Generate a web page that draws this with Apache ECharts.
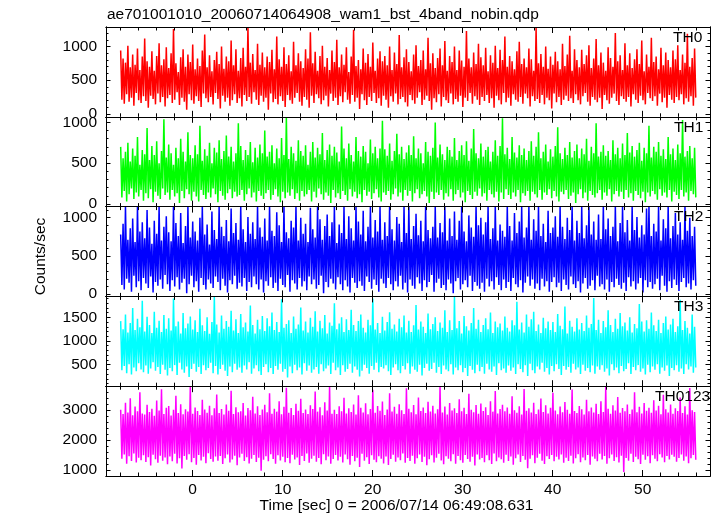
<!DOCTYPE html>
<html><head><meta charset="utf-8">
<script src="https://cdn.jsdelivr.net/npm/echarts@6/dist/echarts.min.js"></script>
<style>html,body{margin:0;padding:0;background:#fff}#c{width:717px;height:516px}</style>
</head><body><div id="c"></div>
<script>
const titleText = "ae701001010_20060714064908_wam1_bst_4band_nobin.qdp";
const xTitle = "Time [sec] 0 = 2006/07/14 06:49:08.631";
const yTitle = "Counts/sec";
const panelNames = ["TH0", "TH1", "TH2", "TH3", "TH0123"];
const xTickLabels = [0, 10, 20, 30, 40, 50];
const yTickLabels = [[0, 500, 1000], [0, 500, 1000], [0, 500, 1000], [500, 1000, 1500], [1000, 2000, 3000]];
const tStart = -8.0, tEnd = 55.9;

const th0 = [
940,210,820,150,760,290,1010,180,690,240,880,120,730,310,970,200,650,160,850,260,
1120,190,780,90,700,270,930,220,640,140,860,300,1050,170,720,250,810,110,990,230,
680,280,900,160,1260,210,750,320,620,130,840,240,960,180,700,60,880,290,770,200,
1030,150,660,260,820,190,710,100,940,300,1180,230,690,170,870,250,630,140,800,310,
920,220,740,80,1000,270,670,180,850,240,780,120,1090,200,720,290,960,160,640,230,
830,110,980,280,700,190,1290,250,760,150,890,320,650,210,1040,130,730,270,910,180,
690,240,850,60,770,300,950,170,660,220,1150,140,810,260,700,190,990,100,740,280,
870,200,630,150,1070,240,720,310,900,180,780,120,680,250,960,210,820,90,1210,270,
750,160,920,290,640,230,860,140,1010,200,700,270,830,110,650,300,940,190,770,240,
1100,130,690,260,880,170,730,320,990,210,620,150,850,280,1250,180,710,240,800,70,
660,290,970,200,760,130,890,250,700,190,1060,310,640,160,820,230,930,120,780,270,
860,210,720,90,1000,260,650,180,910,300,740,140,1170,220,690,250,840,170,960,110,
770,280,630,200,880,150,1020,240,710,320,800,130,940,210,660,270,1130,190,750,60,
900,230,680,170,830,290,970,110,720,250,1080,200,640,160,860,300,770,140,1000,220,
650,180,940,270,790,100,700,240,1230,190,820,310,690,150,910,260,740,210,1040,130,
840,250,720,190,980,280,630,160,870,230,760,90,1010,270,680,200,950,140,800,310,
1150,170,700,240,860,120,780,290,660,210,930,180,1070,250,740,150,820,300,690,230,
970,110,810,260,640,190,1280,220,750,160,890,280,700,140,1000,240,670,200,850,80,
730,300,920,170,780,250,660,130,1040,210,710,270,880,190,1160,230,640,160,960,290,
800,200,690,140,950,260,740,310,870,180,1020,120,680,250,820,210,1110,170,720,240,
910,70,760,280,640,200,990,150,830,240,700,300,1200,190,780,130,870,260,650,220,
1050,180,720,250,900,110,680,290,810,210,960,160,740,270,1090,200,630,140,880,310,
700,230,1130,190,770,260,850,120,660,300,980,170,720,240,910,90,800,280,690,210,
940,160,810,250,1020,200,650,290,880,140,760,230,1190,180,700,260,830,120,970,240];

const th1 = [
700,80,560,160,640,30,750,120,520,190,680,60,590,140,820,90,480,170,660,40,
610,130,930,70,540,180,710,20,600,150,770,100,500,60,650,190,1040,110,570,140,
730,50,620,170,480,90,690,130,560,10,800,160,640,70,520,180,880,120,600,40,
560,150,720,90,610,30,960,170,530,110,670,60,590,140,750,80,500,190,690,120,
630,20,780,160,550,100,650,50,840,130,580,180,700,70,520,150,620,90,990,110,
710,170,540,40,660,120,600,190,760,80,510,140,690,30,570,160,730,100,620,60,
900,130,580,170,640,50,720,110,500,180,680,90,560,20,810,150,600,70,1060,140,
550,100,700,180,620,60,530,130,780,40,650,160,590,90,720,120,480,170,640,30,
760,150,570,80,690,190,610,120,870,50,540,140,660,100,730,10,590,170,700,80,
630,130,520,60,950,160,680,110,560,40,740,180,600,90,520,150,820,70,650,120,
580,20,710,170,640,100,500,150,790,60,620,130,700,180,560,80,680,30,1020,140,
670,110,590,160,740,50,530,120,650,190,860,90,610,140,700,40,550,170,630,100,
720,160,600,30,830,130,560,180,680,70,620,120,500,160,760,90,640,10,590,150,
690,60,1000,140,570,110,730,170,610,50,540,130,700,90,660,180,580,40,810,120,
540,170,650,80,720,140,600,20,770,160,530,110,680,60,920,150,620,100,560,190,
740,90,580,130,660,40,700,170,520,120,640,80,780,150,590,30,710,140,1050,60,
610,180,690,110,550,60,820,140,630,90,570,170,720,20,600,130,680,100,540,160,
650,40,770,150,590,120,700,80,880,170,560,50,640,140,730,110,520,180,670,70,
580,160,710,90,940,30,620,150,550,120,690,170,600,60,760,100,570,140,650,10,
730,120,560,180,680,70,610,140,800,40,530,160,700,110,620,80,990,130,580,170,
640,50,720,140,590,100,650,180,540,30,780,120,610,160,690,90,560,150,740,60,
600,170,870,80,630,130,710,40,580,160,660,110,750,70,530,150,690,20,620,140,
960,90,570,160,700,120,640,50,760,180,590,100,670,140,550,80,820,170,610,30,
680,150,540,110,730,60,620,170,1030,90,580,140,650,40,710,160,560,120,690,80];

const th2 = [
780,120,920,60,1150,200,710,150,860,30,990,240,680,90,1150,170,820,50,940,210,
730,140,1100,80,870,230,660,20,960,160,790,110,1150,190,700,70,880,250,1020,130,
810,40,690,180,1150,100,930,220,760,60,1060,150,670,200,890,10,1150,130,740,240,
950,90,820,170,700,30,1000,210,1150,120,780,60,910,190,650,140,1080,80,840,230,
720,160,1150,50,880,200,760,110,970,20,690,180,1120,130,800,240,930,70,710,150,
1150,100,850,210,680,40,1010,160,790,90,940,230,720,130,1150,60,870,190,750,20,
990,170,700,110,1150,220,830,80,760,150,1070,40,900,200,680,120,1150,90,810,250,
730,30,960,180,870,140,1150,60,700,210,1000,100,790,170,920,50,680,230,1130,130,
850,190,740,70,1150,120,980,240,710,10,890,160,1040,90,760,200,940,140,1150,60,
670,220,910,130,800,50,1150,180,720,100,1020,20,860,210,700,150,1150,80,950,170,
780,110,1090,40,690,230,880,160,1150,70,740,190,970,120,820,30,1150,200,710,140,
940,80,760,210,1150,130,850,50,700,170,1010,100,920,240,680,60,1150,150,800,20,
1150,190,720,110,890,70,1050,220,770,140,960,40,690,180,1150,90,840,160,730,250,
880,30,1150,150,740,200,930,80,810,120,1150,50,700,190,990,140,760,10,1080,170,
710,210,960,60,1150,130,820,180,690,90,1030,240,870,40,750,160,1150,110,900,70,
1000,150,780,30,940,200,1150,100,720,170,860,60,1150,220,700,120,910,50,830,190,
750,80,1150,160,890,40,700,210,1060,130,800,90,950,180,1150,20,740,150,870,230,
1150,110,710,190,980,70,830,140,1150,50,760,200,920,100,680,170,1090,30,800,160,
870,220,1020,90,750,150,1150,40,880,190,720,120,1000,60,840,230,1150,130,700,80,
960,170,800,20,1150,140,730,210,900,70,1150,110,780,180,950,50,710,240,1040,100,
720,130,1150,60,850,190,990,30,760,160,880,90,1150,200,690,120,930,70,1150,150,
810,40,970,220,700,100,1150,170,840,60,1010,140,740,210,900,20,780,180,1120,90,
1150,160,760,70,920,130,820,200,1150,50,700,240,980,110,860,30,1150,170,730,80,
890,190,1060,120,780,40,940,160,710,210,1150,90,830,140,1000,60,760,180,880,110];

const th3 = [
1420,380,1250,470,1560,320,1180,510,1380,290,1700,440,1230,360,1470,530,1290,400,1850,340,
1200,480,1510,310,1340,420,1170,550,1620,370,1280,450,1430,300,1190,500,1550,390,1260,270,
1480,430,1220,360,1900,490,1310,280,1410,540,1160,400,1590,330,1270,460,1370,240,1520,410,
1240,520,1440,350,1190,450,1680,300,1330,490,1210,380,1500,430,1150,540,1400,320,1940,470,
1350,290,1180,410,1540,500,1260,370,1420,260,1300,460,1640,340,1220,520,1460,390,1170,440,
1570,330,1290,480,1390,400,1200,550,1750,310,1340,420,1160,490,1450,360,1250,280,1530,450,
1210,510,1480,340,1310,430,1600,300,1230,470,1400,390,1190,520,1880,350,1280,410,1360,230,
1440,460,1170,320,1520,500,1260,380,1350,440,1710,290,1220,530,1410,370,1180,480,1490,330,
1300,400,1630,450,1200,310,1430,510,1270,360,1550,420,1160,480,1390,300,1320,540,1800,380,
1250,440,1370,280,1500,490,1190,350,1460,410,1230,520,1660,330,1340,460,1210,390,1420,250,
1560,370,1280,500,1180,430,1450,310,1330,470,1900,390,1240,540,1380,340,1170,450,1510,420,
1220,490,1400,360,1610,280,1260,440,1350,510,1200,380,1470,320,1290,470,1540,400,1180,530,
1430,310,1190,460,1330,390,1760,350,1240,500,1410,270,1300,430,1170,520,1580,370,1250,410,
1360,540,1500,330,1210,450,1390,300,1280,480,1650,400,1190,360,1440,510,1230,290,1930,440,
1270,380,1420,490,1160,340,1530,430,1310,260,1220,470,1380,390,1700,320,1260,500,1450,360,
1190,450,1340,310,1480,520,1250,400,1600,350,1170,460,1410,280,1290,530,1370,380,1220,420,
1520,330,1280,480,1200,370,1440,440,1330,300,1830,510,1240,410,1390,340,1180,490,1560,260,
1300,520,1460,380,1620,320,1210,460,1350,400,1170,540,1490,350,1270,430,1410,290,1230,470,
1400,360,1190,510,1570,410,1320,280,1250,470,1730,390,1160,450,1430,330,1300,520,1200,400,
1480,440,1240,300,1380,500,1210,370,1540,430,1280,340,1360,480,1910,310,1230,460,1450,390,
1170,490,1420,350,1290,420,1650,270,1340,510,1190,380,1470,440,1260,320,1590,470,1310,360,
1390,410,1220,530,1500,300,1180,450,1360,380,1270,490,1780,350,1410,420,1200,290,1440,500,
1260,340,1600,460,1330,390,1210,510,1450,310,1170,440,1380,370,1520,480,1240,260,1350,430,
1470,380,1190,490,1310,350,1870,420,1230,300,1420,510,1280,400,1160,460,1560,330,1300,440];

const th0123 = [
3010,1380,2870,1520,3250,1210,2920,1460,3400,1300,2830,1550,3120,1250,2960,1410,3600,1330,2890,1490,
2850,1270,3180,1430,2940,1150,3050,1510,2810,1360,3320,1240,2990,1480,3700,1310,2870,1420,3080,1190,
3140,1450,2820,1290,3010,1540,3480,1220,2900,1390,3200,1050,2860,1470,3030,1340,2950,1530,3790,1260,
2880,1400,3090,1180,2970,1500,2840,1320,3350,1440,3020,1230,2910,1560,3150,1370,2830,1280,3060,1450,
3520,1310,2900,1470,3040,1200,2850,1390,3190,1520,2980,1250,3650,1350,2870,1480,3100,1160,2930,1420,
2960,1540,3240,1300,2820,1430,3070,1220,3000,1380,3450,1500,2890,1270,3130,1410,2840,980,3020,1340,
3180,1460,2930,1290,3560,1530,2880,1370,3050,1210,2950,1490,3300,1320,2860,1440,3110,1260,3750,1400,
2910,1230,3070,1510,2840,1350,3210,1420,2980,1170,3380,1470,2900,1300,3020,1550,2870,1240,3160,1380,
3040,1480,3620,1280,2950,1400,3100,1190,2830,1530,3260,1330,2990,1450,3800,1210,2880,1370,3010,1500,
2870,1320,3130,1440,2960,1250,3410,1520,2890,1360,3060,1180,2940,1470,3190,1290,2850,1410,3500,1100,
3080,1540,2920,1310,3230,1430,2860,1200,3040,1490,3680,1340,2910,1260,3140,1460,2980,1380,3290,1220,
2840,1450,3020,1170,3560,1370,2950,1510,3110,1280,2880,1420,3200,1330,3000,1550,2870,1240,3730,1400,
3050,1300,2930,1480,3170,1210,2860,1390,3420,1520,2970,1270,3090,1440,2900,1160,3280,1360,2950,1490,
3150,1250,2890,1410,3030,1540,3780,1320,2920,1190,3120,1460,2850,1380,3240,1290,2990,1530,3060,1210,
2900,1470,3360,1330,2960,1240,3080,1500,2870,1370,3550,1280,3010,1440,2930,1150,3170,1520,2880,1350,
3220,1400,2970,1260,3100,1490,2840,1330,3300,1200,2950,1550,3640,1290,2890,1420,3040,1360,3180,1240,
2960,1510,3090,1300,2880,1450,3460,1180,3000,1390,2910,1520,3130,1270,2850,1470,3710,1340,2980,1060,
3060,1380,2920,1490,3250,1230,2870,1410,3020,1540,3390,1310,2940,1200,3160,1460,2890,1370,3080,1500,
3580,1290,2990,1440,2860,1350,3120,1520,2930,1240,3270,1410,3010,1300,2880,1480,3690,1220,2970,1390,
2900,1530,3140,1260,3030,1420,2850,1330,3350,1500,2960,1180,3090,1450,2920,1380,3210,1290,2870,1540,
3300,1350,2940,1470,3770,1210,3050,1390,2880,1520,3160,1300,2990,1430,3440,1250,2910,1480,3070,930,
2960,1400,3190,1310,2870,1540,3020,1270,3600,1440,2930,1360,3110,1200,2890,1510,3240,1340,2980,1460,
3080,1230,2910,1490,3330,1380,2990,1290,3150,1530,2860,1420,3510,1260,3030,1470,2920,1350,3190,1510,
2880,1440,3060,1280,2970,1400,3420,1520,2900,1310,3130,1450,2850,1230,3740,1390,3000,1500,2940,1340];

const seriesValues = [th0, th1, th2, th3, th0123];

// ---- layout / style ----
const FONT = "'Liberation Sans', Arial, Helvetica, sans-serif";
const FS = 15.5;
const L = 106, R = 710, T0 = 27, PH = 89.8;
const XMIN = -9.63, XMAX = 57.48;
const colors = ['#ff0000', '#00ff00', '#0000ff', '#00ffff', '#ff00ff'];
const yRanges = [[-45, 1290], [-33, 1069], [-30, 1145], [44, 1943], [800, 3800]];
const minorSteps = [100, 100, 100, 100, 200];
const labelX = [673, 674, 674, 674, 655];

function range(a, b, s) { const r = []; for (let v = a; v <= b + 1e-9; v += s) r.push(Math.round(v * 1000) / 1000); return r; }
const xAll = range(-8, 56, 2);
const xMajor = xAll.filter(v => v % 10 === 0);
const xMinor = xAll.filter(v => v % 10 !== 0);
const plain = v => String(v);

const grids = [], xAxes = [], yAxes = [], series = [], graphics = [];

function xa(i, pos, ticks, len, labels) {
  return {
    type: 'value', gridIndex: i, position: pos, min: XMIN, max: XMAX, z: 5,
    axisLine: { show: true, onZero: false, lineStyle: { color: '#000', width: 1 } },
    axisTick: { show: true, inside: true, length: len, customValues: ticks, lineStyle: { color: '#000', width: 1 } },
    axisLabel: labels ? { show: true, customValues: labels, formatter: plain, margin: 6, fontSize: FS, color: '#000', fontFamily: FONT } : { show: false },
    splitLine: { show: false }
  };
}
function ya(i, pos, ticks, len, labels) {
  return {
    type: 'value', gridIndex: i, position: pos, min: yRanges[i][0], max: yRanges[i][1], z: 5,
    axisLine: { show: true, onZero: false, lineStyle: { color: '#000', width: 1 } },
    axisTick: { show: true, inside: true, length: len, customValues: ticks, lineStyle: { color: '#000', width: 1 } },
    axisLabel: labels ? { show: true, customValues: labels, formatter: plain, margin: 9, fontSize: FS, color: '#000', fontFamily: FONT } : { show: false },
    splitLine: { show: false }
  };
}

for (let i = 0; i < 5; i++) {
  const vals = seriesValues[i];
  const n = vals.length;
  grids.push({ left: L, width: R - L, top: T0 + i * PH, height: PH, containLabel: false });
  xAxes.push(xa(i, 'bottom', xMajor, 6, i === 4 ? xTickLabels : null));
  xAxes.push(xa(i, 'bottom', xMinor, 3.5, null));
  xAxes.push(xa(i, 'top', xMajor, 6, null));
  xAxes.push(xa(i, 'top', xMinor, 3.5, null));
  const maj = yTickLabels[i];
  const lo = Math.ceil(yRanges[i][0] / minorSteps[i]) * minorSteps[i];
  const minor = range(lo, yRanges[i][1], minorSteps[i]).filter(v => maj.indexOf(v) < 0);
  yAxes.push(ya(i, 'left', maj, 4.5, maj));
  yAxes.push(ya(i, 'left', minor, 2.5, null));
  yAxes.push(ya(i, 'right', maj, 4.5, null));
  yAxes.push(ya(i, 'right', minor, 2.5, null));
  series.push({
    type: 'line', xAxisIndex: 4 * i, yAxisIndex: 4 * i,
    data: vals.map((v, k) => [tStart + k * (tEnd - tStart) / (n - 1), v]),
    symbol: 'none', showSymbol: false, clip: true, silent: true,
    lineStyle: { width: 1.5, color: colors[i] }, itemStyle: { color: colors[i] }
  });
  graphics.push({
    type: 'text', x: labelX[i], y: T0 + i * PH + 10.5, z: 10,
    style: { text: panelNames[i], fill: '#000', fontSize: FS, fontFamily: FONT, align: 'left', verticalAlign: 'middle', textAlign: 'left', textVerticalAlign: 'middle' }
  });
}

graphics.push({ type: 'text', x: 107, y: 15,
  style: { text: titleText, fill: '#000', fontSize: FS, fontFamily: FONT, align: 'left', verticalAlign: 'middle', textAlign: 'left', textVerticalAlign: 'middle' } });
graphics.push({ type: 'text', x: 396.5, y: 505.5,
  style: { text: xTitle, fill: '#000', fontSize: FS, fontFamily: FONT, align: 'center', verticalAlign: 'middle', textAlign: 'center', textVerticalAlign: 'middle' } });
graphics.push({ type: 'text', x: 41, y: 256.5, rotation: Math.PI / 2,
  style: { text: yTitle, fill: '#000', fontSize: FS, fontFamily: FONT, align: 'center', verticalAlign: 'middle', textAlign: 'center', textVerticalAlign: 'middle' } });

const chart = echarts.init(document.getElementById('c'), null, { renderer: 'canvas' });
chart.setOption({
  animation: false,
  backgroundColor: '#ffffff',
  grid: grids, xAxis: xAxes, yAxis: yAxes, series: series,
  graphic: graphics
});
</script>
</body></html>
